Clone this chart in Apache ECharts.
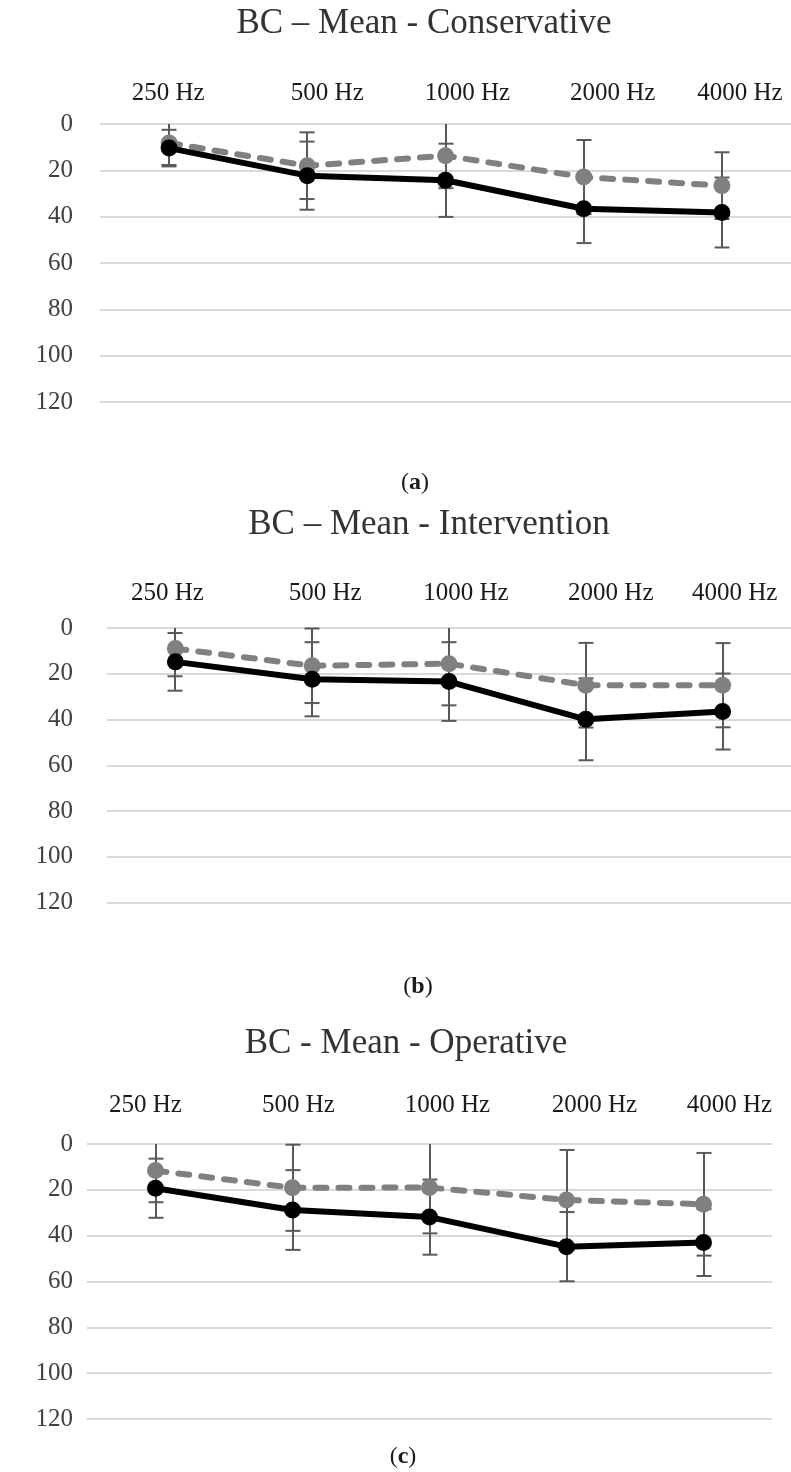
<!DOCTYPE html>
<html><head><meta charset="utf-8">
<script src="https://cdn.jsdelivr.net/npm/echarts@6/dist/echarts.min.js"></script>
<style>html,body{margin:0;padding:0;background:#fff}#c{width:791px;height:1472px}</style>
</head><body><div id="c"></div>
<script>
// ---- data ----
const categories = ['250 Hz', '500 Hz', '1000 Hz', '2000 Hz', '4000 Hz'];
const chartTitles = ['BC – Mean - Conservative', 'BC – Mean - Intervention', 'BC - Mean - Operative'];
const panelLetters = ['a', 'b', 'c'];

// (a) Conservative
const consBlackMean = [10.4, 22.3, 24.3, 36.6, 38.2];
const consBlackSD   = [7.9, 14.7, 15.8, 14.8, 15.1];
const consGrayMean  = [8.2, 18.0, 13.7, 22.9, 26.6];
const consGraySD    = [9.5, 14.4, 14.0, 16.0, 14.4];

// (b) Intervention
const intBlackMean = [14.8, 22.4, 23.4, 39.9, 36.5];
const intBlackSD   = [12.6, 16.2, 17.2, 17.9, 16.6];
const intGrayMean  = [9.0, 16.5, 15.6, 25.0, 25.0];
const intGraySD    = [12.1, 16.3, 18.2, 18.5, 18.4];

// (c) Operative
const opBlackMean = [19.3, 28.8, 31.9, 44.8, 43.0];
const opBlackSD   = [12.9, 17.4, 16.4, 15.1, 14.6];
const opGrayMean  = [11.6, 19.1, 19.0, 24.4, 26.3];
const opGraySD    = [13.8, 18.8, 20.0, 21.8, 22.4];

// ---- layout / style ----
const FONT = '"Liberation Serif", "Times New Roman", serif';
const panels = [
  { black: consBlackMean, blackSD: consBlackSD, gray: consGrayMean, graySD: consGraySD,
    grid: { left: 100, right: -3, top: 124, height: 278 }, yMargin: 27, xMargin: 18,
    labelShift: [-1, 20, 22, 29, 18], titleY: 24, titleX: 424, letterY: 483, letterX: 415 },
  { black: intBlackMean, blackSD: intBlackSD, gray: intGrayMean, graySD: intGraySD,
    grid: { left: 107, right: -6, top: 628, height: 274.6 }, yMargin: 34, xMargin: 22,
    labelShift: [-8, 13, 17, 25, 12], titleY: 525, titleX: 429, letterY: 987, letterX: 418 },
  { black: opBlackMean, blackSD: opBlackSD, gray: opGrayMean, graySD: opGraySD,
    grid: { left: 87, right: 19, top: 1144, height: 275 }, yMargin: 14, xMargin: 26,
    labelShift: [-10, 6, 18, 28, 26], titleY: 1044, titleX: 406, letterY: 1457, letterX: 403 }
];

function errRender(params, api) {
  const x = api.value(0), m = api.value(1), s = api.value(2);
  const cs = params.coordSys;
  const p0 = api.coord([x, m - s]);
  const p1 = api.coord([x, m + s]);
  const top = cs.y, bot = cs.y + cs.height;
  const half = 7.5;
  const style = { stroke: '#595959', lineWidth: 2 };
  const cx = Math.round(p0[0]);
  const children = [{ type: 'line', shape: { x1: cx, y1: Math.max(p0[1], top), x2: cx, y2: Math.min(p1[1], bot) }, style }];
  if (p0[1] >= top) children.push({ type: 'line', shape: { x1: cx - half, y1: p0[1], x2: cx + half, y2: p0[1] }, style });
  if (p1[1] <= bot) children.push({ type: 'line', shape: { x1: cx - half, y1: p1[1], x2: cx + half, y2: p1[1] }, style });
  return { type: 'group', children };
}

const grid = [], xAxis = [], yAxis = [], series = [], title = [];
panels.forEach((p, i) => {
  grid.push(p.grid);
  const rich = {};
  p.labelShift.forEach((d, k) => {
    rich['p' + k] = { fontFamily: FONT, fontSize: 25, color: '#1a1a1a',
      padding: d >= 0 ? [0, 0, 0, 2 * d] : [0, -2 * d, 0, 0] };
  });
  xAxis.push({
    gridIndex: i, type: 'category', data: categories, position: 'top', boundaryGap: true,
    axisLine: { show: false }, axisTick: { show: false }, splitLine: { show: false },
    axisLabel: { interval: 0, margin: p.xMargin, fontFamily: FONT, fontSize: 25, color: '#1a1a1a',
      formatter: (v, idx) => '{p' + idx + '|' + v + '}', rich }
  });
  yAxis.push({
    gridIndex: i, type: 'value', inverse: true, min: 0, max: 120, interval: 20,
    axisLine: { show: false }, axisTick: { show: false },
    splitLine: { lineStyle: { color: '#d9d9d9', width: 2 } },
    axisLabel: { margin: p.yMargin, fontFamily: FONT, fontSize: 25, color: '#404040' }
  });
  const errData = [];
  categories.forEach((c, k) => errData.push([k, p.black[k], p.blackSD[k]]));
  categories.forEach((c, k) => errData.push([k, p.gray[k], p.graySD[k]]));
  series.push({
    type: 'custom', xAxisIndex: i, yAxisIndex: i, renderItem: errRender, data: errData,
    encode: { x: 0, y: 1 }, z: 1, silent: true
  });
  series.push({
    type: 'line', xAxisIndex: i, yAxisIndex: i, data: p.gray, z: 2,
    symbol: 'circle', symbolSize: 17, itemStyle: { color: '#808080' },
    lineStyle: { color: '#808080', width: 6, type: [11, 12], cap: 'round' }
  });
  series.push({
    type: 'line', xAxisIndex: i, yAxisIndex: i, data: p.black, z: 3,
    symbol: 'circle', symbolSize: 17, itemStyle: { color: '#000000' },
    lineStyle: { color: '#000000', width: 6 }
  });
  title.push({
    text: chartTitles[i], left: p.titleX, top: p.titleY, textAlign: 'center', textVerticalAlign: 'middle',
    padding: 0, textStyle: { fontFamily: FONT, fontSize: 35, fontWeight: 'normal', color: '#333333' }
  });
  title.push({
    text: '({b|' + panelLetters[i] + '})', left: p.letterX, top: p.letterY, textAlign: 'center', textVerticalAlign: 'middle',
    padding: 0, textStyle: { fontFamily: FONT, fontSize: 24, fontWeight: 'normal', color: '#1a1a1a',
      rich: { b: { fontFamily: FONT, fontSize: 24, fontWeight: 'bold', color: '#1a1a1a' } } }
  });
});

const chart = echarts.init(document.getElementById('c'), null, { renderer: 'canvas' });
chart.setOption({ animation: false, backgroundColor: '#ffffff', title, grid, xAxis, yAxis, series });
</script>
</body></html>
